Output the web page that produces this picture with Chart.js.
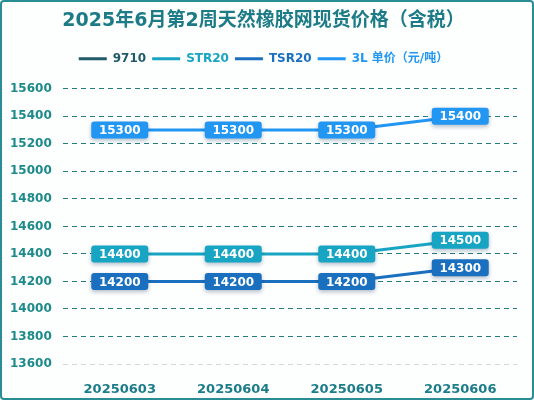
<!DOCTYPE html>
<html>
<head>
<meta charset="utf-8">
<script src="https://cdn.jsdelivr.net/npm/chart.js@4/dist/chart.umd.min.js"></script>
<style>
  html, body { margin: 0; padding: 0; background: #fff; }
  #wrap {
    width: 534px; height: 400px; box-sizing: border-box;
    border: 2px solid #2a8d96; border-radius: 4px;
    background: #fdfefe; position: relative;
  }
</style>
</head>
<body>
<div id="wrap"><canvas id="priceChart"></canvas></div>
<script>
// даты (категории)
const dates = ['20250603', '20250604', '20250605', '20250606'];

// цены по сортам, юань/тонна
const price9710 = [null, null, null, null];   // на графике нет точек
const priceSTR20 = [14400, 14400, 14400, 14500];
const priceTSR20 = [14200, 14200, 14200, 14300];
const price3L = [15300, 15300, 15300, 15400];

const seriesNames = ['9710', 'STR20', 'TSR20', '3L 单价（元/吨）'];
const seriesColors = ['#1f5a68', '#17a5c3', '#1a70bf', '#2196f3'];

const FONT = '"DejaVu Sans", "Noto Sans CJK SC", sans-serif';

// плашки с подписями значений
const valueBoxes = {
    id: 'valueBoxes',
    afterDatasetsDraw(chart) {
        const ctx = chart.ctx;
        const w = 57, h = 17;
        chart.data.datasets.forEach((ds, i) => {
            const meta = chart.getDatasetMeta(i);
            meta.data.forEach((pt, j) => {
                const v = ds.data[j];
                if (v === null || v === undefined) return;
                ctx.save();
                ctx.shadowColor = 'rgba(0, 40, 80, 0.3)';
                ctx.shadowBlur = 4;
                ctx.shadowOffsetY = 2;
                ctx.fillStyle = ds.borderColor;
                ctx.beginPath();
                ctx.roundRect(pt.x - w / 2, pt.y - h / 2, w, h, 3);
                ctx.fill();
                ctx.restore();
                ctx.save();
                ctx.fillStyle = '#fff';
                ctx.font = 'bold 12px ' + FONT;
                ctx.textAlign = 'center';
                ctx.textBaseline = 'middle';
                ctx.fillText(String(v), pt.x, pt.y + 1);
                ctx.restore();
            });
        });
    }
};

const allData = [price9710, priceSTR20, priceTSR20, price3L];

new Chart(document.getElementById('priceChart'), {
    type: 'line',
    data: {
        labels: dates,
        datasets: allData.map((d, i) => ({
            label: seriesNames[i],
            data: d,
            borderColor: seriesColors[i],
            backgroundColor: seriesColors[i],
            borderWidth: 3,
            pointRadius: 0,
            tension: 0
        }))
    },
    options: {
        responsive: true,
        maintainAspectRatio: false,
        animation: false,
        layout: { padding: { left: 8, right: 15, top: 0, bottom: 0 } },
        plugins: {
            title: {
                display: true,
                weight: 2000,
                text: '2025年6月第2周天然橡胶网现货价格（含税）',
                color: '#1c7b86',
                font: { family: FONT, size: 19, weight: 'bold' },
                padding: { top: 8, bottom: 14 }
            },
            legend: {
                display: true,
                weight: 1700,
                labels: {
                    boxWidth: 28,
                    boxHeight: 3,
                    padding: 6,
                    font: { family: FONT, size: 12, weight: 'bold' },
                    generateLabels(chart) {
                        return chart.data.datasets.map((ds, i) => ({
                            text: ds.label,
                            fillStyle: ds.borderColor,
                            strokeStyle: ds.borderColor,
                            lineWidth: 0,
                            fontColor: ds.borderColor,
                            hidden: false,
                            datasetIndex: i
                        }));
                    }
                }
            },
            // пустой подзаголовок как отступ между легендой и графиком
            subtitle: {
                display: true,
                weight: 1000,
                text: '',
                font: { size: 10 },
                padding: { top: 0, bottom: 2 }
            },
            tooltip: { enabled: false }
        },
        scales: {
            x: {
                offset: true,
                grid: { display: false },
                border: { display: false },
                ticks: {
                    color: '#1b7c8a',
                    padding: 10,
                    font: { family: FONT, size: 13, weight: 'bold' }
                },
                afterFit(scale) { scale.height = 34; }
            },
            y: {
                min: 13600,
                max: 15600,
                border: { display: false, dash: [5, 4] },
                grid: {
                    drawTicks: false,
                    color: ctx => ctx.tick && ctx.tick.value === 13600 ? '#d6d6d6' : '#247c82',
                    lineWidth: 1
                },
                ticks: {
                    stepSize: 200,
                    crossAlign: 'far',
                    padding: 8,
                    color: '#1d8a8a',
                    font: { family: FONT, size: 12, weight: 'bold' },
                    callback: v => String(v)
                },
                afterFit(scale) { scale.width = 53; }
            }
        }
    },
    plugins: [valueBoxes]
});
</script>
</body>
</html>
